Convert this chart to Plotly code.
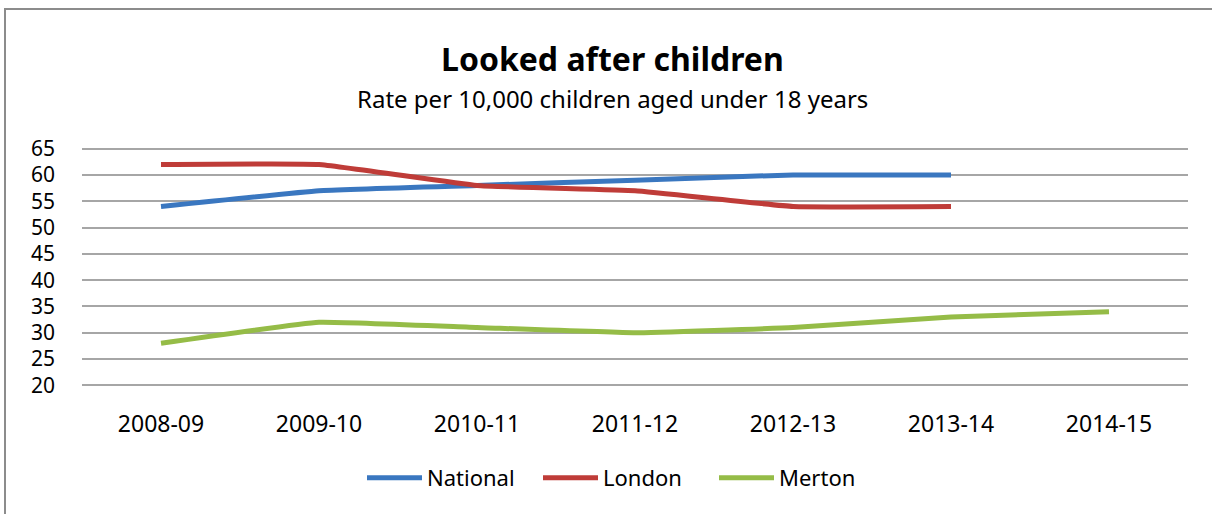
import plotly.graph_objects as go

years = ["2008-09", "2009-10", "2010-11", "2011-12", "2012-13", "2013-14", "2014-15"]
national = [54, 57, 58, 59, 60, 60, None]
london = [62, 62, 58, 57, 54, 54, None]
merton = [28, 32, 31, 30, 31, 33, 34]
y_ticks = list(range(20, 70, 5))

FONT = "Noto Sans"

fig = go.Figure()
for name, vals, col in [("National", national, "#3A77C0"),
                        ("London", london, "#BF3C38"),
                        ("Merton", merton, "#95BC47")]:
    fig.add_trace(go.Scatter(x=years, y=vals, name=name, mode="lines",
                             line=dict(color=col, width=5, shape="spline", smoothing=0.3),
                             connectgaps=False))

W, H = 1212, 514
# plot area: x 82..1188, y 65 at px 148, 20 at px 384 -> 236px / 45 units
upp = 236 / 45
ylo, yhi = 19.5, 65.5
L, R = 82, 24
T = round(148 - (yhi - 65) * upp) + 1
B = round(H - (384 + (20 - ylo) * upp)) - 1
pw, ph = W - L - R, H - T - B


def py(px):
    return (H - B - px) / ph


def px_x(px):
    return (px - L) / pw


fig.update_layout(
    width=W, height=H,
    margin=dict(l=L, r=R, t=T, b=B),
    paper_bgcolor="white", plot_bgcolor="white",
    font=dict(family=FONT, size=20, color="#000"),
    showlegend=True,
    legend=dict(orientation="h", x=px_x(362), xanchor="left", y=py(457), yanchor="top",
                font=dict(size=22), itemwidth=55, tracegroupgap=0,
                entrywidth=106, entrywidthmode="pixels"),
    xaxis=dict(type="category", range=[-0.5, 6.5], showgrid=False, showline=False,
               ticks="", tickfont=dict(size=23), ticklabelstandoff=20),
    yaxis=dict(range=[ylo, yhi], tickvals=y_ticks, showgrid=True, gridcolor="#A6A6A6",
               gridwidth=1.5, zeroline=False, showline=False, ticks="",
               tickfont=dict(size=21), ticklabelstandoff=26),
)
fig.add_annotation(text="<b>Looked after children</b>", x=px_x(612), y=py(58),
                   xref="paper", yref="paper", showarrow=False, font=dict(size=32),
                   xanchor="center", yanchor="middle")
fig.add_annotation(text="Rate per 10,000 children aged under 18 years", x=px_x(612),
                   y=py(98), xref="paper", yref="paper", showarrow=False,
                   font=dict(size=24), xanchor="center", yanchor="middle")
fig.add_shape(type="rect", xref="paper", yref="paper",
              x0=px_x(5), x1=px_x(W + 20),
              y0=py(H + 20), y1=py(9),
              line=dict(color="#8C8C8C", width=2), layer="below")
fig.write_html("out.html")
